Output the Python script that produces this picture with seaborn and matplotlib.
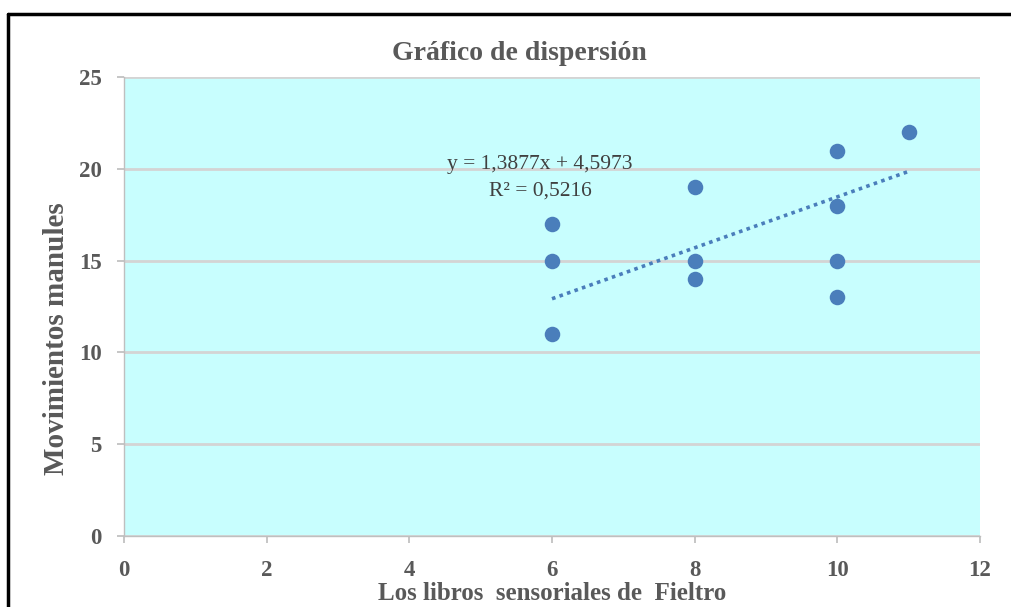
import matplotlib
matplotlib.use("Agg")
import matplotlib.pyplot as plt
import numpy as np
import pandas as pd
import seaborn as sns
from matplotlib.lines import Line2D

# Data
libros = [6, 6, 6, 8, 8, 8, 10, 10, 10, 10, 11]
movimientos = [17, 15, 11, 19, 15, 14, 21, 18, 15, 13, 22]
slope = 1.3877
intercept = 4.5973
r2 = 0.5216
x_ticks = [0, 2, 4, 6, 8, 10, 12]
y_ticks = [0, 5, 10, 15, 20, 25]

sns.set_theme(style="white")
plt.rcParams["font.family"] = ["Liberation Serif", "DejaVu Serif"]

BLUE = "#4A7EBB"
TEXT = "#595959"

df = pd.DataFrame({"x": libros, "y": movimientos})

fig = plt.figure(figsize=(10.11, 6.07), dpi=100)
ax = fig.add_axes([0.1227, 0.117, 0.8466, 0.756])
ax.set_facecolor("#C8FEFE")

sns.scatterplot(data=df, x="x", y="y", ax=ax, s=125, color=BLUE,
                edgecolor=BLUE, linewidth=0, zorder=3)

# linear trendline (Excel style)
xs = np.array([min(libros), max(libros)])
ax.plot(xs, slope * xs + intercept, linestyle=(0, (1, 1.2)), color=BLUE,
        linewidth=2.6, zorder=2)

eq = f"y = {slope:.4f}x + {intercept:.4f}".replace(".", ",")
r2_txt = f"R² = {r2:.4f}".replace(".", ",")
ax.text(5.83, 19.7, eq, ha="center", va="bottom", fontsize=15.5, color="#404040")
ax.text(5.83, 19.3, r2_txt, ha="center", va="top", fontsize=15.5, color="#404040")

ax.set_xlim(0, 12)
ax.set_ylim(0, 25)
ax.set_xticks(x_ticks)
ax.set_yticks(y_ticks)
ax.yaxis.grid(True, color="#D4D4D4", linewidth=2)
ax.set_axisbelow(True)

for side in ["top", "right"]:
    ax.spines[side].set_visible(False)
for side in ["left", "bottom"]:
    ax.spines[side].set_color("#BFBFBF")
    ax.spines[side].set_linewidth(1)

ax.tick_params(axis="both", which="major", direction="out", length=5,
               color="#BFBFBF", labelsize=16.5, labelcolor=TEXT)
ax.tick_params(axis="x", bottom=True, pad=12)
ax.tick_params(axis="y", left=True, pad=11)
for lbl in ax.get_xticklabels() + ax.get_yticklabels():
    lbl.set_fontweight("bold")

ax.set_xlabel("Los libros  sensoriales de  Fieltro", fontsize=18,
              fontweight="bold", color=TEXT, labelpad=1)
ax.set_ylabel("Movimientos manules", fontsize=21, fontweight="bold",
              color=TEXT)
ax.yaxis.set_label_coords(-0.063, 0.43)
ax.set_title("Gráfico de dispersión", fontsize=20, fontweight="bold",
             color=TEXT, pad=12, x=0.4615)

# outer chart border (only top and left visible in the crop)
fig.add_artist(Line2D([0.008, 1.0], [0.977, 0.977], color="black",
                      linewidth=2.5, transform=fig.transFigure))
fig.add_artist(Line2D([0.008, 0.008], [0.0, 0.977], color="black",
                      linewidth=2.5, transform=fig.transFigure))

fig.savefig("out.png", dpi=100)
plt.close(fig)
